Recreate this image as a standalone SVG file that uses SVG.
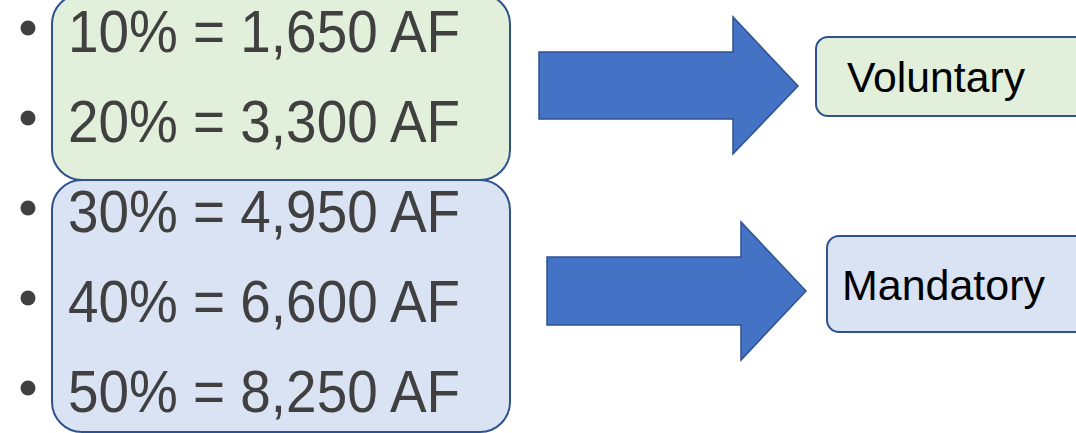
<svg xmlns="http://www.w3.org/2000/svg" width="1076" height="433" viewBox="0 0 1076 433">
<style>
.box{stroke:#2F528F;stroke-width:2}
.green{fill:#E2EFDA}
.blue{fill:#DAE3F3}
.big{font-family:"Liberation Sans",Arial,sans-serif;font-size:59px;fill:#404040}
.lbl{font-family:"Liberation Sans",Arial,sans-serif;font-size:43px;fill:#000}
.bul{fill:#404040}
.arrow{fill:#4472C4;stroke:#2F528F;stroke-width:1.5}
</style>
<rect width="1076" height="433" fill="#fff"/>
<g id="group-voluntary">
<rect class="box green" x="52" y="-6" width="458" height="186" rx="30"/>
</g>
<g id="group-mandatory">
<rect class="box blue" x="52" y="180" width="458" height="252" rx="30"/>
</g>
<g id="bullets">
<circle class="bul" cx="28" cy="28" r="7.5"/>
<circle class="bul" cx="28" cy="118" r="7.5"/>
<circle class="bul" cx="28" cy="208" r="7.5"/>
<circle class="bul" cx="28" cy="298" r="7.5"/>
<circle class="bul" cx="28" cy="388" r="7.5"/>
<text class="big" x="68" y="52" textLength="392" lengthAdjust="spacingAndGlyphs">10% = 1,650 AF</text>
<text class="big" x="68" y="142" textLength="392" lengthAdjust="spacingAndGlyphs">20% = 3,300 AF</text>
<text class="big" x="68" y="232" textLength="392" lengthAdjust="spacingAndGlyphs">30% = 4,950 AF</text>
<text class="big" x="68" y="322" textLength="392" lengthAdjust="spacingAndGlyphs">40% = 6,600 AF</text>
<text class="big" x="68" y="412" textLength="392" lengthAdjust="spacingAndGlyphs">50% = 8,250 AF</text>
</g>
<g id="connectors">
<polygon class="arrow" points="539,52 733,52 733,17 798,86 733,154 733,119 539,119"/>
<polygon class="arrow" points="547,257 741,257 741,222 806,291 741,360 741,325 547,325"/>
</g>
<g id="node-voluntary">
<rect class="box green" x="816" y="37" width="290" height="79" rx="12"/>
<text class="lbl" x="847" y="92" textLength="178" lengthAdjust="spacingAndGlyphs">Voluntary</text>
</g>
<g id="node-mandatory">
<rect class="box blue" x="827" y="236" width="290" height="96" rx="12"/>
<text class="lbl" x="842" y="300" textLength="203" lengthAdjust="spacingAndGlyphs">Mandatory</text>
</g>
</svg>
